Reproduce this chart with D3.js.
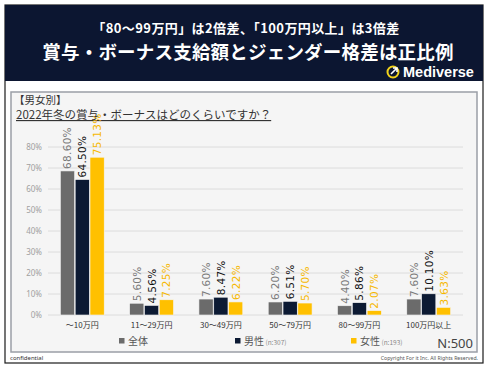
<!DOCTYPE html>
<html>
<head>
<meta charset="utf-8">
<script src="https://cdn.jsdelivr.net/npm/d3@7"></script>
<style>
  body { margin: 0; background: #fff; }
  svg { display: block; font-family: "Noto Sans CJK JP", "Noto Sans", sans-serif; }
</style>
</head>
<body>
<div id="chart"></div>
<script>
// データ
var categories = ["～10万円", "11～29万円", "30～49万円", "50～79万円", "80～99万円", "100万円以上"];
var seriesNames = ["全体", "男性", "女性"];
var seriesNotes = ["", "(n:307)", "(n:193)"];
var allValues = [68.60, 5.60, 7.60, 6.20, 4.40, 7.60];
var maleValues = [64.50, 4.56, 8.47, 6.51, 5.86, 10.10];
var femaleValues = [75.13, 7.25, 6.22, 5.70, 2.07, 3.63];
var yTicks = [0, 10, 20, 30, 40, 50, 60, 70, 80];

var colors = ["#6b6b6b", "#0c1a33", "#ffc000"];
var labelColors = ["#7a7a7a", "#111111", "#f5b800"];

var W = 490, H = 367;
var svg = d3.select("#chart").append("svg").attr("width", W).attr("height", H);

// 外枠
svg.append("rect").attr("x", 5).attr("y", 5).attr("width", 478).attr("height", 358)
  .attr("fill", "#fff").attr("stroke", "#1b1b1b").attr("stroke-width", 1.2);

// ヘッダー
svg.append("rect").attr("x", 5).attr("y", 5).attr("width", 478).attr("height", 76)
  .attr("fill", "#0c1631");
svg.append("text").attr("x", 246).attr("y", 33).attr("text-anchor", "middle")
  .attr("fill", "#fff").attr("font-size", 13).attr("font-weight", "bold")
  .attr("letter-spacing", 0.4)
  .text("「80～99万円」は2倍差、「100万円以上」は3倍差");
svg.append("text").attr("x", 248).attr("y", 58.5).attr("text-anchor", "middle")
  .attr("fill", "#fff").attr("font-size", 18.5).attr("font-weight", "bold")
  .attr("letter-spacing", 0.2)
  .text("賞与・ボーナス支給額とジェンダー格差は正比例");
// ロゴ
var logo = svg.append("g").attr("transform", "translate(393,72)");
logo.append("circle").attr("r", 5.5).attr("fill", "none").attr("stroke", "#f2d31b").attr("stroke-width", 2);
logo.append("path").attr("d", "M-2,2 L4,-4 M0,-4 L4,-4 L4,0").attr("stroke", "#fff")
  .attr("stroke-width", 1.6).attr("fill", "none");
svg.append("text").attr("x", 403).attr("y", 77).attr("fill", "#fff")
  .attr("font-family", "'Liberation Sans', Arial, sans-serif")
  .attr("font-size", 14.5).attr("font-weight", "bold").text("Mediverse");

// チャート枠
svg.append("rect").attr("x", 11).attr("y", 92).attr("width", 466).attr("height", 260)
  .attr("fill", "#f5f5f5").attr("stroke", "#9a9ea6").attr("stroke-width", 1.5);

svg.append("text").attr("x", 14).attr("y", 103.5).attr("fill", "#333")
  .attr("font-size", 10.5).text("【男女別】");
svg.append("text").attr("x", 16).attr("y", 119).attr("fill", "#333")
  .attr("font-size", 11.5).attr("text-decoration", "underline")
  .text("2022年冬の賞与・ボーナスはどのくらいですか？");

// スケール
var x0 = d3.scaleBand().domain(categories).range([48, 463]).paddingInner(0.35).paddingOuter(0.17);
var x1 = d3.scaleBand().domain(seriesNames).range([0, x0.bandwidth()]).padding(0.04);
var y = d3.scaleLinear().domain([0, 80]).range([315, 147]);

// グリッド
svg.append("g").selectAll("line").data(yTicks).enter().append("line")
  .attr("x1", 48).attr("x2", 463)
  .attr("y1", function(d) { return y(d); }).attr("y2", function(d) { return y(d); })
  .attr("stroke", "#dcdcdc").attr("stroke-width", 1);

var yAxis = svg.append("g").attr("transform", "translate(42,0)")
  .call(d3.axisLeft(y).tickValues(yTicks).tickSize(0).tickPadding(0)
    .tickFormat(function(d) { return d + "%"; }));
yAxis.select(".domain").remove();
yAxis.selectAll("text").attr("fill", "#a0a0a0").attr("font-size", 8)
  .attr("font-family", "'Noto Sans', sans-serif");

var xAxis = svg.append("g").attr("transform", "translate(0,322)")
  .call(d3.axisBottom(x0).tickSize(0).tickPadding(0));
xAxis.select(".domain").remove();
xAxis.selectAll("text").attr("fill", "#333").attr("font-size", 8)
  .attr("font-family", "'Noto Sans CJK JP', serif");

// 棒
var series = [allValues, maleValues, femaleValues];
var rows = [];
categories.forEach(function(c, i) {
  series.forEach(function(vals, j) {
    rows.push({ cat: c, s: seriesNames[j], idx: j, v: vals[i] });
  });
});

svg.append("g").selectAll("rect").data(rows).enter().append("rect")
  .attr("x", function(d) { return x0(d.cat) + x1(d.s); })
  .attr("y", function(d) { return y(d.v); })
  .attr("width", x1.bandwidth())
  .attr("height", function(d) { return y(0) - y(d.v); })
  .attr("fill", function(d) { return colors[d.idx]; })
  .attr("stroke", "#f5f5f5").attr("stroke-width", 0.6);

svg.append("g").selectAll("text").data(rows).enter().append("text")
  .attr("transform", function(d) {
    var cx = x0(d.cat) + x1(d.s) + x1.bandwidth() / 2;
    return "translate(" + cx + "," + (y(d.v) - 2) + ") rotate(-90)";
  })
  .attr("dominant-baseline", "central")
  .attr("fill", function(d) { return labelColors[d.idx]; })
  .attr("font-size", 10.5)
  .attr("font-family", "'DejaVu Sans', sans-serif")
  .attr("letter-spacing", 0.3)
  .text(function(d) { return d.v.toFixed(2) + "%"; });

// 凡例
var legendX = [119, 235, 351];
var legend = svg.append("g").selectAll("g").data(seriesNames).enter().append("g")
  .attr("transform", function(d, i) { return "translate(" + legendX[i] + ",341)"; });
legend.append("rect").attr("x", 0).attr("y", -3).attr("width", 5.5).attr("height", 5.5)
  .attr("fill", function(d, i) { return colors[i]; });
var lt = legend.append("text").attr("x", 9).attr("y", 3.5).attr("fill", "#555").attr("font-size", 10);
lt.append("tspan").text(function(d) { return d; });
lt.append("tspan").attr("font-size", 6.5).attr("fill", "#888")
  .text(function(d, i) { return seriesNotes[i] ? " " + seriesNotes[i] : ""; });

svg.append("text").attr("x", 473).attr("y", 348).attr("text-anchor", "end")
  .attr("fill", "#444").attr("font-size", 13).attr("font-family", "'Noto Sans', sans-serif")
  .text("N:500");

// フッター
svg.append("text").attr("x", 10).attr("y", 360).attr("fill", "#333")
  .attr("font-size", 6).attr("font-family", "'Noto Sans', sans-serif").text("confidential");
svg.append("text").attr("x", 478).attr("y", 360).attr("text-anchor", "end").attr("fill", "#555")
  .attr("font-size", 5.2).attr("font-family", "'Noto Sans', sans-serif")
  .text("Copyright For it Inc. All Rights Reserved.");
</script>
</body>
</html>
